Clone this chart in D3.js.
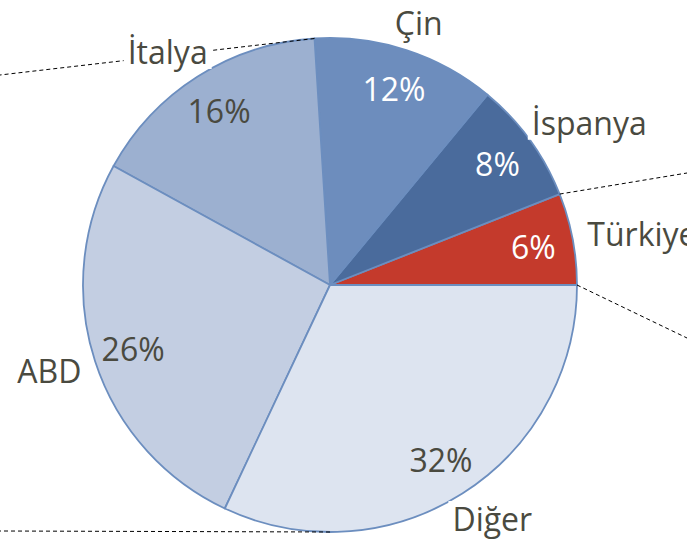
<!DOCTYPE html>
<html><head><meta charset="utf-8">
<script src="https://cdn.jsdelivr.net/npm/d3@7"></script>
<style>html,body{margin:0;padding:0;background:#fff;overflow:hidden}</style>
</head><body>
<svg id="chart" width="687" height="547"></svg>
<script>
const categories = ["Türkiye", "İspanya", "Çin", "İtalya", "ABD", "Diğer"];
const values = [6, 8, 12, 16, 26, 32];
const colors = ["#C43A2C", "#4A6B9C", "#6D8DBD", "#9CB0D0", "#C3CEE2", "#DDE4F0"];
const pctColors = ["#FFFFFF", "#FFFFFF", "#FFFFFF", "#4A4A40", "#4A4A40", "#4A4A40"];

const W = 687, H = 547;
const cx = 330, cy = 285, R = 247;
const svg = d3.select("#chart");
const g = svg.append("g").attr("transform", `translate(${cx},${cy})`);

const data = categories.map((c, i) => ({cat: c, value: values[i], color: colors[i], pc: pctColors[i]}));
const pie = d3.pie().value(d => d.value).sort(null)
  .startAngle(Math.PI / 2).endAngle(Math.PI / 2 - 2 * Math.PI);
const arcs = pie(data);
const arc = d3.arc().innerRadius(0).outerRadius(R);

const pt = (a, r) => [r * Math.sin(a), -r * Math.cos(a)];

const lines = [];
const cinEnd = pt(arcs[2].endAngle, R);
lines.push([cinEnd, [-cx, 75 - cy]]);
const bottom = pt(Math.PI, R);
lines.push([bottom, [-cx, bottom[1] - 1]]);
const tStart = pt(arcs[0].startAngle, R);
lines.push([tStart, [W - cx, 338 - cy]]);
const tEnd = pt(arcs[0].endAngle, R);
lines.push([tEnd, [W - cx, 173 - cy]]);

g.selectAll("path.slice").data(arcs).enter().append("path")
  .attr("class", "slice")
  .attr("d", arc)
  .attr("fill", d => d.data.color)
  .attr("stroke", "#6C8EBF")
  .attr("stroke-width", 1.8)
  .attr("stroke-linejoin", "round");

g.selectAll("line.lead").data(lines).enter().append("line")
  .attr("x1", d => d[0][0]).attr("y1", d => d[0][1])
  .attr("x2", d => d[1][0]).attr("y2", d => d[1][1])
  .attr("stroke", "#000").attr("stroke-width", 1)
  .attr("stroke-dasharray", "4,3");

const font = "'Open Sans', 'DejaVu Sans', sans-serif";
const fs = 32;

const pctArc = d3.arc().innerRadius(207).outerRadius(207);
g.selectAll("text.pct").data(arcs).enter().append("text")
  .attr("class", "pct")
  .attr("x", d => pctArc.centroid(d)[0])
  .attr("y", d => pctArc.centroid(d)[1])
  .attr("text-anchor", "middle")
  .attr("dominant-baseline", "central")
  .attr("font-family", font)
  .attr("font-size", fs)
  .attr("fill", d => d.data.pc)
  .text(d => d.data.value + "%");

const catG = g.selectAll("g.cat").data(arcs).enter().append("g").attr("class", "cat");
catG.each(function(d) {
  const sel = d3.select(this);
  const a = (d.startAngle + d.endAngle) / 2;
  const p = pt(a, R + 12);
  const t = sel.append("text")
    .attr("text-anchor", "middle")
    .attr("dominant-baseline", "central")
    .attr("font-family", font)
    .attr("font-size", fs)
    .attr("fill", "#4A4A40")
    .text(d.data.cat);
  const bb = t.node().getBBox();
  const w = bb.width + 8, h = 34;
  const x = p[0] + Math.sin(a) * w / 2;
  const y = p[1] - Math.cos(a) * h / 2;
  t.attr("x", x).attr("y", y);
  sel.insert("rect", "text")
    .attr("x", x - bb.width / 2 - 4).attr("y", y - 17)
    .attr("width", bb.width + 8).attr("height", 34)
    .attr("fill", "#fff");
});
</script>
</body></html>
